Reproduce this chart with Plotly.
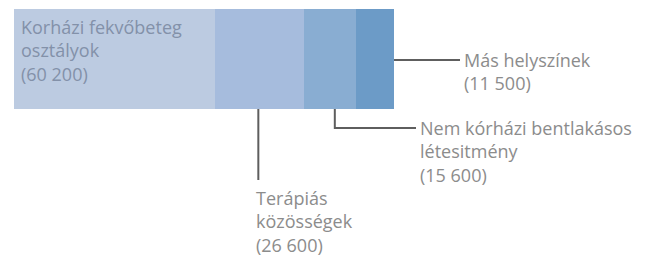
import plotly.graph_objects as go

# ---- data ----
categories = ["Korházi fekvőbeteg osztályok", "Terápiás közösségek",
              "Nem kórházi bentlakásos létesitmény", "Más helyszínek"]
label_lines = [["Korházi fekvőbeteg", "osztályok"],
               ["Terápiás", "közösségek"],
               ["Nem kórházi bentlakásos", "létesitmény"],
               ["Más helyszínek"]]
values = [60200, 26600, 15600, 11500]
value_labels = ["(60 200)", "(26 600)", "(15 600)", "(11 500)"]
colors = ["#bccbe1", "#a6bcdd", "#89add2", "#6c9bc7"]

W, H = 653, 262
total = sum(values)
bar_left_px, bar_right_px = 14, 394
k = total / (bar_right_px - bar_left_px)   # data units per pixel


def px(p):
    return (p - bar_left_px) * k


bar_y, bar_h = 59, 100
starts = [sum(values[:i]) for i in range(len(values))]

fig = go.Figure()
for c, v, col in zip(categories, values, colors):
    fig.add_trace(go.Bar(x=[v], y=[bar_y], width=[bar_h], orientation="h",
                         marker=dict(color=col, line=dict(width=0)),
                         name=c, hoverinfo="skip"))

font_fam = "Open Sans"
grey = "#8c8c8c"
line_col = "#5e5e5e"
FS = 18
LH = 1.3 * FS

ann = []
shapes = []


def add_label(x, xshift, first_y, lines, color):
    n = len(lines)
    ann.append(dict(x=x, y=first_y + (n - 1) * LH / 2, xref="x", yref="y",
                    xshift=xshift, xanchor="left", yanchor="middle", align="left",
                    showarrow=False, text="<br>".join(lines),
                    font=dict(family=font_fam, size=FS, color=color)))


# segment 1 label inside the bar
add_label(0, 5, 27.5, label_lines[0] + [value_labels[0]], "#8391a9")

bottom = bar_y + bar_h / 2
# segment 2: vertical leader down
x2 = starts[1] + values[1] * 0.49
shapes.append(dict(type="line", xref="x", yref="y", x0=x2, x1=x2, y0=bottom, y1=180,
                   line=dict(color=line_col, width=2)))
add_label(x2, -4, 198, label_lines[1] + [value_labels[1]], grey)

# segment 3: elbow leader
x3 = starts[2] + values[2] * 0.6
x3e = px(416)
shapes.append(dict(type="path", xref="x", yref="y",
                   path=f"M {x3},{bottom} L {x3},128 L {x3e},128",
                   line=dict(color=line_col, width=2)))
add_label(x3e, 2, 128, label_lines[2] + [value_labels[2]], grey)

# segment 4: horizontal leader
x4 = total
x4e = px(460)
shapes.append(dict(type="line", xref="x", yref="y", x0=x4, x1=x4e, y0=60, y1=60,
                   line=dict(color=line_col, width=2)))
add_label(x4e, 2, 60, label_lines[3] + [value_labels[3]], grey)

fig.update_layout(
    width=W, height=H, barmode="stack", showlegend=False,
    margin=dict(l=0, r=0, t=0, b=0),
    paper_bgcolor="white", plot_bgcolor="white",
    xaxis=dict(range=[px(0), px(W)], visible=False, fixedrange=True),
    yaxis=dict(range=[H, 0], visible=False, fixedrange=True),
    annotations=ann, shapes=shapes,
)
fig.write_html("out.html", config=dict(displayModeBar=False),
               post_script="document.body.style.margin='0';")
